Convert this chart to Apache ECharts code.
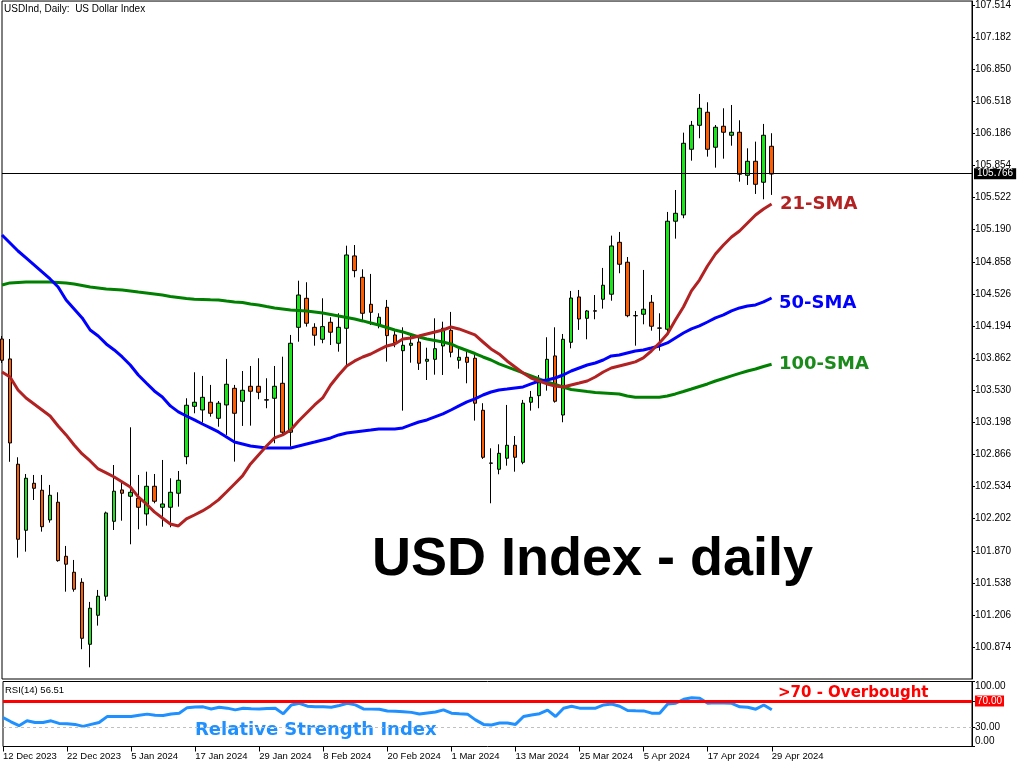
<!DOCTYPE html>
<html>
<head>
<meta charset="utf-8">
<style>
  html, body { margin: 0; padding: 0; background: #fff; }
  #chart { width: 1024px; height: 768px; }
</style>
<script src="https://cdn.jsdelivr.net/npm/echarts@6/dist/echarts.min.js"></script>
</head>
<body>
<div id="chart"></div>
<script>
const dates = ['12 Dec 2023','13 Dec 2023','14 Dec 2023','15 Dec 2023','18 Dec 2023','19 Dec 2023','20 Dec 2023','21 Dec 2023','22 Dec 2023','26 Dec 2023','27 Dec 2023','28 Dec 2023','29 Dec 2023',
'2 Jan 2024','3 Jan 2024','4 Jan 2024','5 Jan 2024','8 Jan 2024','9 Jan 2024','10 Jan 2024','11 Jan 2024','12 Jan 2024','15 Jan 2024','16 Jan 2024','17 Jan 2024','18 Jan 2024','19 Jan 2024','22 Jan 2024','23 Jan 2024','24 Jan 2024','25 Jan 2024','26 Jan 2024','29 Jan 2024','30 Jan 2024','31 Jan 2024',
'1 Feb 2024','2 Feb 2024','5 Feb 2024','6 Feb 2024','7 Feb 2024','8 Feb 2024','9 Feb 2024','12 Feb 2024','13 Feb 2024','14 Feb 2024','15 Feb 2024','16 Feb 2024','19 Feb 2024','20 Feb 2024','21 Feb 2024','22 Feb 2024','23 Feb 2024','26 Feb 2024','27 Feb 2024','28 Feb 2024','29 Feb 2024',
'1 Mar 2024','4 Mar 2024','5 Mar 2024','6 Mar 2024','7 Mar 2024','8 Mar 2024','11 Mar 2024','12 Mar 2024','13 Mar 2024','14 Mar 2024','15 Mar 2024','18 Mar 2024','19 Mar 2024','20 Mar 2024','21 Mar 2024','22 Mar 2024','25 Mar 2024','26 Mar 2024','27 Mar 2024','28 Mar 2024',
'1 Apr 2024','2 Apr 2024','3 Apr 2024','4 Apr 2024','5 Apr 2024','8 Apr 2024','9 Apr 2024','10 Apr 2024','11 Apr 2024','12 Apr 2024','15 Apr 2024','16 Apr 2024','17 Apr 2024','18 Apr 2024','19 Apr 2024','22 Apr 2024','23 Apr 2024','24 Apr 2024','25 Apr 2024','26 Apr 2024','29 Apr 2024'];

const xTickLabels = ['12 Dec 2023','22 Dec 2023','5 Jan 2024','17 Jan 2024','29 Jan 2024','8 Feb 2024','20 Feb 2024','1 Mar 2024','13 Mar 2024','25 Mar 2024','5 Apr 2024','17 Apr 2024','29 Apr 2024'];

const opens = [104.060,103.854,102.765,102.082,102.568,102.496,102.189,102.372,101.813,101.648,101.544,100.903,101.203,101.400,102.175,102.499,102.434,102.413,102.251,102.537,102.320,102.320,102.465,102.843,103.364,103.326,103.406,103.240,103.378,103.550,103.416,103.571,103.571,103.432,103.447,103.602,103.096,104.181,104.481,104.181,104.057,104.233,104.016,104.171,104.919,104.698,104.419,104.205,104.388,104.102,103.939,103.995,104.029,103.830,103.850,103.988,104.150,103.840,103.871,103.861,103.323,102.778,102.713,102.827,102.961,102.785,103.406,103.474,103.636,103.885,103.274,104.026,104.495,104.274,104.352,104.471,104.523,105.060,104.854,104.302,104.316,104.440,104.174,104.161,105.278,105.343,106.022,106.270,106.405,106.043,106.260,106.167,106.198,105.753,105.898,105.681,106.053];
const highs = [104.091,104.060,102.837,102.664,102.654,102.654,102.551,102.475,101.920,101.775,101.586,101.341,101.465,102.275,102.757,102.585,103.147,102.654,102.688,102.664,102.809,102.620,102.695,103.447,103.716,103.678,103.585,103.419,103.854,103.585,103.729,103.781,103.861,103.654,103.781,103.877,104.102,104.663,104.647,104.223,104.481,104.285,104.326,105.025,105.032,104.781,104.733,104.326,104.464,104.161,104.181,104.119,104.091,103.970,104.274,104.239,104.340,103.988,103.947,103.913,103.396,102.930,102.971,103.378,103.057,103.430,103.523,103.688,104.078,104.181,104.112,104.557,104.567,104.360,104.515,104.795,105.129,105.167,104.908,104.350,104.774,104.515,104.326,105.374,105.601,106.194,106.315,106.594,106.508,106.273,106.446,106.480,106.322,106.032,106.101,106.284,106.188];
const lows = [103.812,102.790,101.799,101.861,102.395,102.068,102.161,101.757,101.447,101.447,100.852,100.665,101.096,101.354,102.085,102.181,101.937,102.092,102.130,102.361,102.119,102.113,102.326,102.765,103.292,103.195,103.257,103.153,103.068,102.792,103.161,103.164,103.437,103.344,102.982,103.068,102.947,104.032,104.188,103.991,104.016,103.998,103.929,103.774,104.698,104.257,104.205,104.171,103.826,103.975,103.319,103.815,103.740,103.636,103.691,103.688,103.871,103.753,103.602,103.216,102.820,102.361,102.661,102.750,102.688,102.765,103.319,103.344,103.526,103.402,103.199,103.964,104.154,104.057,104.264,104.374,104.456,104.740,104.285,103.991,104.212,104.146,103.939,104.136,105.098,105.309,105.904,106.136,105.946,105.832,105.925,106.059,105.687,105.653,105.560,105.505,105.550];
const closes = [103.840,102.985,101.989,102.620,102.516,102.119,102.444,101.768,101.731,101.472,100.965,101.276,101.400,102.261,102.486,102.465,102.475,102.320,102.537,102.382,102.354,102.475,102.599,103.375,103.406,103.457,103.292,103.396,103.592,103.292,103.530,103.520,103.509,103.428,103.571,103.096,104.016,104.515,104.223,104.099,104.188,104.130,104.181,104.929,104.767,104.326,104.336,104.285,104.095,104.022,103.995,104.016,103.809,103.850,103.960,104.171,103.923,103.871,103.819,103.396,102.837,102.775,102.878,102.961,102.837,103.396,103.457,103.608,103.850,103.416,104.057,104.484,104.267,104.350,104.348,104.616,105.022,104.833,104.301,104.300,104.368,104.192,104.172,105.278,105.360,106.084,106.270,106.446,106.022,106.250,106.198,106.198,105.764,105.898,105.660,106.167,105.766];

const sma21 = [103.719,103.667,103.533,103.450,103.388,103.326,103.264,103.161,103.068,102.964,102.871,102.799,102.716,102.675,102.633,102.582,102.530,102.427,102.354,102.272,102.209,102.147,102.127,102.199,102.240,102.282,102.334,102.396,102.478,102.561,102.644,102.768,102.861,102.954,103.037,103.068,103.119,103.212,103.295,103.378,103.450,103.585,103.688,103.781,103.833,103.874,103.905,103.947,103.988,104.009,104.060,104.071,104.091,104.112,104.133,104.153,104.184,104.164,104.133,104.102,104.029,103.957,103.905,103.833,103.771,103.709,103.657,103.626,103.595,103.574,103.564,103.585,103.605,103.626,103.667,103.719,103.760,103.781,103.802,103.823,103.864,103.936,104.019,104.112,104.257,104.391,104.557,104.670,104.815,104.939,105.032,105.115,105.177,105.260,105.343,105.405,105.456];
const sma50 = [105.136,105.053,104.970,104.898,104.826,104.753,104.681,104.598,104.464,104.371,104.278,104.153,104.091,104.009,103.947,103.874,103.791,103.688,103.605,103.523,103.461,103.368,103.306,103.264,103.223,103.181,103.140,103.099,103.047,102.995,102.975,102.954,102.944,102.933,102.933,102.933,102.933,102.954,102.975,102.995,103.016,103.037,103.068,103.088,103.099,103.109,103.119,103.130,103.130,103.130,103.140,103.171,103.202,103.223,103.254,103.285,103.326,103.368,103.409,103.440,103.481,103.512,103.533,103.543,103.554,103.564,103.595,103.626,103.636,103.657,103.688,103.729,103.760,103.791,103.812,103.843,103.885,103.895,103.916,103.936,103.947,103.967,103.988,104.019,104.071,104.122,104.164,104.195,104.236,104.278,104.309,104.350,104.381,104.402,104.412,104.443,104.484];
const sma100 = [104.619,104.640,104.645,104.650,104.650,104.650,104.650,104.645,104.640,104.629,104.614,104.598,104.588,104.577,104.572,104.567,104.557,104.546,104.536,104.526,104.515,104.500,104.490,104.479,104.471,104.469,104.466,104.464,104.453,104.443,104.438,104.422,104.412,104.396,104.381,104.371,104.360,104.355,104.350,104.340,104.329,104.314,104.298,104.283,104.267,104.247,104.226,104.205,104.179,104.153,104.133,104.107,104.081,104.060,104.045,104.029,104.009,103.972,103.941,103.910,103.874,103.843,103.802,103.771,103.740,103.709,103.678,103.647,103.616,103.590,103.564,103.538,103.528,103.517,103.507,103.502,103.497,103.492,103.471,103.458,103.458,103.458,103.458,103.471,103.492,103.517,103.543,103.569,103.595,103.626,103.652,103.678,103.704,103.729,103.750,103.776,103.799];
const rsi = [44.6,38,32,39.5,37,37,39.5,35.5,35,34,31,34,37,46,46,46,46,48,49.8,48,47.7,50,51.3,59.8,60.8,61,57.8,60.4,59,56.3,58.9,58,57.8,58.5,58.9,50.2,63.9,66.5,62,61.3,61,60.4,63,66.5,64,57.8,57.5,57.4,54.5,54.3,53.5,52.5,50,51.5,53,56.3,51.3,50.5,49.8,41,34,33,36.1,36.1,34,46.1,48.5,50.5,56,46.1,58.9,62,59,58.9,59,63.9,65.4,62,55.3,55,54.8,51.3,51.3,65.4,66.5,72.6,75,74.1,66.5,67.4,67,66.5,61,60.4,57.4,63.9,56.51];

const priceTicks = [100.874,101.206,101.538,101.870,102.202,102.534,102.866,103.198,103.530,103.862,104.194,104.526,104.858,105.190,105.522,105.854,106.186,106.518,106.850,107.182,107.514];
const rsiTicks = [0, 30, 70, 100];
const currentPrice = 105.766;
const rsiOverbought = 70;
const rsiOversold = 30;

const emptySlots = 25;
const axisCats = dates.concat(new Array(emptySlots).fill(''));
const candleData = dates.map((d, i) => [opens[i], closes[i], lows[i], highs[i]]);

const FONT = '"Liberation Sans", Arial, sans-serif';
const chart = echarts.init(document.getElementById('chart'), null, { renderer: 'canvas' });

const showLabel = (idx, val) => xTickLabels.indexOf(val) !== -1;

chart.setOption({
  animation: false,
  backgroundColor: '#fff',
  textStyle: { fontFamily: FONT },
  grid: [
    { left: 2, top: 1, width: 970, height: 678, show: true, borderColor: '#000', borderWidth: 1, backgroundColor: 'transparent' },
    { left: 2, top: 681.5, width: 970, height: 65, show: true, borderColor: '#000', borderWidth: 1, backgroundColor: 'transparent' }
  ],
  xAxis: [
    { type: 'category', gridIndex: 0, data: axisCats, boundaryGap: false,
      axisLine: { show: false }, axisTick: { show: false }, axisLabel: { show: false }, splitLine: { show: false } },
    { type: 'category', gridIndex: 1, data: axisCats, boundaryGap: false,
      axisLine: { show: false },
      axisTick: { show: true, interval: showLabel, length: 5, lineStyle: { color: '#000', width: 1 } },
      axisLabel: { show: true, interval: showLabel, align: 'left', margin: 5, fontSize: 9.5, color: '#000', fontFamily: FONT },
      splitLine: { show: false } }
  ],
  yAxis: [
    { type: 'value', gridIndex: 0, position: 'right', min: 100.544, max: 107.555, scale: true,
      axisLine: { show: true, lineStyle: { color: '#000', width: 1 } },
      axisTick: { show: true, length: 3, customValues: priceTicks, lineStyle: { color: '#000' } },
      axisLabel: { show: true, customValues: priceTicks, margin: 3, fontSize: 10, color: '#000', fontFamily: FONT,
        formatter: v => Number(v).toFixed(3) },
      splitLine: { show: false } },
    { type: 'value', gridIndex: 1, position: 'right', min: 0, max: 100,
      axisLine: { show: true, lineStyle: { color: '#000', width: 1 } },
      axisTick: { show: true, length: 3, customValues: rsiTicks, lineStyle: { color: '#000' } },
      axisLabel: { show: true, customValues: rsiTicks, margin: 3, fontSize: 10, color: '#000', fontFamily: FONT,
        verticalAlignMaxLabel: 'top', verticalAlignMinLabel: 'bottom',
        formatter: v => (v === rsiOverbought ? '{r|' + Number(v).toFixed(2) + '}' : Number(v).toFixed(2)),
        rich: { r: { backgroundColor: '#ff0000', color: '#fff', fontSize: 10, fontFamily: FONT, padding: [1, 2, 0, 2] } } },
      splitLine: { show: false } }
  ],
  series: [
    { type: 'candlestick', xAxisIndex: 0, yAxisIndex: 0, data: candleData, barWidth: 4, clip: false,
      itemStyle: { color: '#19E619', color0: '#FF5B00', borderColor: '#000', borderColor0: '#000', borderWidth: 1 },
      markLine: { silent: true, symbol: ['none', 'none'], animation: false,
        data: [{ yAxis: currentPrice }],
        lineStyle: { color: '#000', width: 1, type: 'solid' },
        label: { show: true, position: 'end', distance: 2, formatter: currentPrice.toFixed(3), color: '#fff',
          backgroundColor: '#000', padding: [1, 3, 0, 3], fontSize: 10, fontFamily: FONT } } },
    { type: 'line', xAxisIndex: 0, yAxisIndex: 0, data: sma100, showSymbol: false, symbol: 'none',
      lineStyle: { color: '#008000', width: 3 } },
    { type: 'line', xAxisIndex: 0, yAxisIndex: 0, data: sma50, showSymbol: false, symbol: 'none',
      lineStyle: { color: '#0000FF', width: 3 } },
    { type: 'line', xAxisIndex: 0, yAxisIndex: 0, data: sma21, showSymbol: false, symbol: 'none',
      lineStyle: { color: '#B22222', width: 3 } },
    { type: 'line', xAxisIndex: 1, yAxisIndex: 1, data: rsi, showSymbol: false, symbol: 'none',
      lineStyle: { color: '#1E90FF', width: 3 },
      markLine: { silent: true, symbol: ['none', 'none'], animation: false, label: { show: false },
        data: [
          { yAxis: rsiOverbought, lineStyle: { color: '#ff0000', width: 3, type: 'solid' } },
          { yAxis: rsiOversold, lineStyle: { color: '#c0c0c0', width: 1, type: [3, 3] } }
        ] } }
  ],
  graphic: [
    { type: 'text', left: 4, top: 4, style: { text: 'USDInd, Daily:  US Dollar Index', font: '10px ' + FONT, fill: '#000' } },
    { type: 'text', left: 5, top: 685, style: { text: 'RSI(14) 56.51', font: '9.5px ' + FONT, fill: '#000' } },
    { type: 'text', x: 372, y: 560, style: { text: 'USD Index - daily', font: 'bold 54px ' + FONT, fill: '#000', verticalAlign: 'middle', align: 'left' } },
    { type: 'text', x: 780, y: 204, style: { text: '21-SMA', font: 'bold 18px "DejaVu Sans"', fill: '#B22222', verticalAlign: 'middle', align: 'left' } },
    { type: 'text', x: 779, y: 303, style: { text: '50-SMA', font: 'bold 18px "DejaVu Sans"', fill: '#0000FF', verticalAlign: 'middle', align: 'left' } },
    { type: 'text', x: 779, y: 364, style: { text: '100-SMA', font: 'bold 18px "DejaVu Sans"', fill: '#1A8A1A', verticalAlign: 'middle', align: 'left' } },
    { type: 'text', x: 778, y: 693.5, style: { text: '>70 - Overbought', font: 'bold 15px "DejaVu Sans"', fill: '#FF0000', verticalAlign: 'middle', align: 'left' } },
    { type: 'text', x: 195, y: 730, style: { text: 'Relative Strength Index', font: 'bold 18px "DejaVu Sans"', fill: '#1E90FF', verticalAlign: 'middle', align: 'left' } }
  ]
});
</script>
</body>
</html>
